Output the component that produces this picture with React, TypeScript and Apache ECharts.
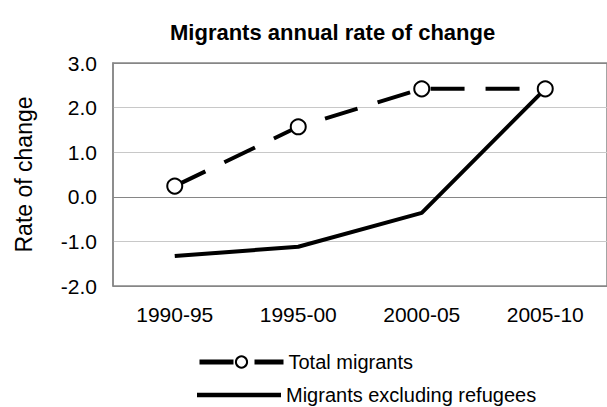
import React, { useEffect, useRef } from "react";
import * as echarts from "echarts";

const categories = ["1990-95", "1995-00", "2000-05", "2005-10"];
const totalMigrants = [0.24, 1.57, 2.42, 2.42];
const excludingRefugees = [-1.33, -1.12, -0.36, 2.42];
const seriesNames = ["Total migrants", "Migrants excluding refugees"];

export default function App() {
  const ref = useRef<HTMLDivElement>(null);
  useEffect(() => {
    const chart = echarts.init(ref.current!, null, { renderer: "svg" });
    const font = "'Liberation Sans', Arial, sans-serif";
    const legendBase = {
      orient: "horizontal",
      left: 197,
      padding: 0,
      itemWidth: 84,
      itemHeight: 14,
      textStyle: { fontFamily: font, fontSize: 20, lineHeight: 20, color: "#000" },
      lineStyle: { width: 5 },
    };
    chart.setOption({
      animation: false,
      backgroundColor: "#ffffff",
      textStyle: { fontFamily: font },
      title: {
        text: "Migrants annual rate of change",
        left: 170,
        top: 21,
        padding: 0,
        textStyle: { fontFamily: font, fontSize: 22, fontWeight: "bold", color: "#000" },
      },
      grid: {
        left: 113,
        top: 63,
        right: -8,
        bottom: 121,
        show: true,
        borderColor: "#868686",
        borderWidth: 1.5,
        backgroundColor: "transparent",
      },
      legend: [
        {
          ...legendBase,
          top: 352,
          data: [{ name: seriesNames[0] }],
        },
        {
          ...legendBase,
          top: 385,
          data: [{ name: seriesNames[1], icon: "path://M0,0 L88,0 L88,4.5 L0,4.5 Z" }],
        },
      ],
      xAxis: {
        type: "category",
        data: categories,
        boundaryGap: true,
        axisLine: { show: false },
        axisTick: { show: false },
        axisLabel: { fontFamily: font, fontSize: 21, color: "#000", margin: 18 },
        splitLine: { show: false },
      },
      yAxis: {
        type: "value",
        min: -2,
        max: 3,
        interval: 1,
        name: "Rate of change",
        nameLocation: "middle",
        nameRotate: 90,
        nameGap: 78,
        nameTextStyle: { fontFamily: font, fontSize: 23, color: "#000" },
        axisLine: { show: true, lineStyle: { color: "#868686", width: 1.5 } },
        axisTick: { show: false },
        axisLabel: {
          fontFamily: font,
          fontSize: 21,
          color: "#000",
          margin: 16,
          formatter: (v: number) => v.toFixed(1),
        },
        splitLine: {
          show: true,
          lineStyle: {
            color: ["#868686", "#c8c8c8", "#868686", "#c8c8c8", "#c8c8c8", "#868686"],
            width: 1,
          },
        },
      },
      series: [
        {
          name: seriesNames[0],
          type: "line",
          data: totalMigrants,
          symbol: "circle",
          symbolSize: 15,
          showAllSymbol: true,
          itemStyle: { color: "#ffffff", borderColor: "#000000", borderWidth: 2 },
          lineStyle: { color: "#000000", width: 4, type: [34, 21] },
          z: 3,
        },
        {
          name: seriesNames[1],
          type: "line",
          data: excludingRefugees,
          symbol: "none",
          itemStyle: { color: "#000000" },
          lineStyle: { color: "#000000", width: 4, type: "solid" },
          z: 2,
        },
      ],
    });
    return () => chart.dispose();
  }, []);
  return (
    <div
      ref={ref}
      style={{ position: "absolute", left: 0, top: 0, width: 607, height: 407 }}
    />
  );
}
